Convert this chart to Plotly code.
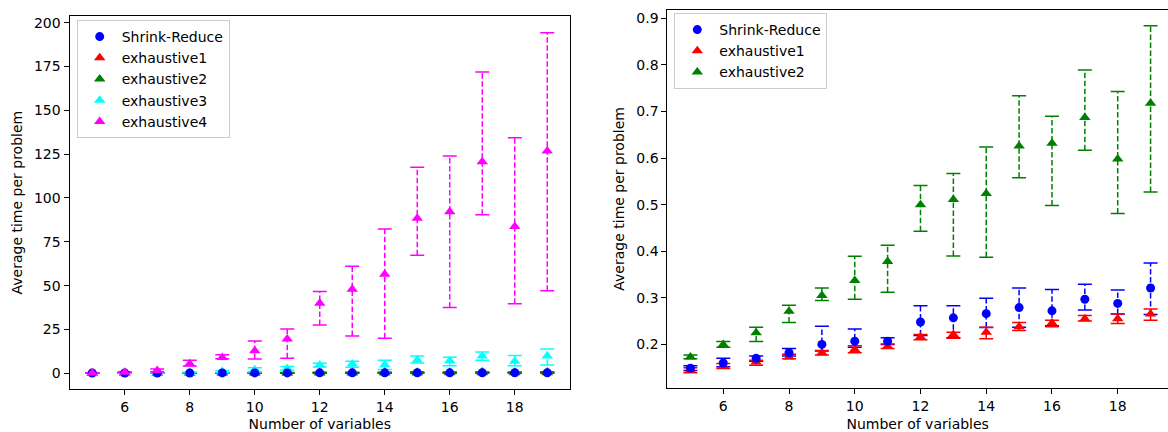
import plotly.graph_objects as go

# ---------------- data ----------------
n_vars = [5, 6, 7, 8, 9, 10, 11, 12, 13, 14, 15, 16, 17, 18, 19]

sr_mean = [0.149, 0.160, 0.170, 0.182, 0.200, 0.207, 0.207, 0.248, 0.257, 0.266, 0.279, 0.272, 0.297, 0.288, 0.321]
sr_low  = [0.144, 0.152, 0.164, 0.175, 0.186, 0.194, 0.200, 0.219, 0.214, 0.236, 0.237, 0.240, 0.274, 0.265, 0.264]
sr_high = [0.154, 0.170, 0.175, 0.191, 0.239, 0.233, 0.214, 0.283, 0.283, 0.299, 0.321, 0.318, 0.329, 0.317, 0.375]

ex1_mean = [0.145, 0.154, 0.162, 0.173, 0.182, 0.189, 0.196, 0.216, 0.221, 0.226, 0.238, 0.246, 0.255, 0.255, 0.265]
ex1_low  = [0.139, 0.148, 0.155, 0.169, 0.177, 0.182, 0.191, 0.210, 0.213, 0.212, 0.230, 0.238, 0.250, 0.245, 0.252]
ex1_high = [0.150, 0.159, 0.166, 0.179, 0.187, 0.197, 0.201, 0.221, 0.226, 0.237, 0.247, 0.252, 0.262, 0.265, 0.276]

ex2_mean = [0.173, 0.200, 0.225, 0.271, 0.305, 0.337, 0.378, 0.500, 0.511, 0.524, 0.626, 0.632, 0.687, 0.598, 0.718]
ex2_low  = [0.169, 0.194, 0.206, 0.247, 0.294, 0.297, 0.312, 0.443, 0.390, 0.387, 0.558, 0.498, 0.617, 0.481, 0.527]
ex2_high = [0.177, 0.206, 0.237, 0.284, 0.321, 0.389, 0.413, 0.541, 0.567, 0.624, 0.734, 0.690, 0.789, 0.743, 0.884]

ex3_mean = [0.05, 0.1, 0.3, 0.5, 1.0, 2.0, 2.8, 4.7, 5.3, 4.9, 7.6, 7.2, 9.8, 6.8, 9.8]
ex3_low  = [0.0, 0.05, 0.15, 0.3, 0.5, 0.8, 1.8, 3.6, 3.5, 2.1, 5.9, 4.3, 7.4, 4.3, 4.8]
ex3_high = [0.1, 0.15, 0.4, 0.7, 1.5, 3.2, 3.9, 5.8, 6.8, 7.5, 9.8, 9.2, 12.2, 10.2, 13.8]

ex4_mean = [0.2, 0.6, 1.6, 5.5, 9.0, 12.8, 19.5, 39.9, 47.9, 56.5, 88.4, 92.2, 120.7, 83.7, 126.8]
ex4_low  = [0.1, 0.4, 0.9, 4.2, 8.3, 8.1, 8.6, 27.6, 21.3, 20.0, 67.3, 37.5, 90.5, 39.7, 47.1]
ex4_high = [0.3, 0.9, 2.4, 7.4, 10.6, 18.4, 25.3, 46.6, 61.0, 82.3, 117.5, 124.0, 171.9, 134.4, 194.3]

left_yticks = [0, 25, 50, 75, 100, 125, 150, 175, 200]
right_yticks = [0.2, 0.3, 0.4, 0.5, 0.6, 0.7, 0.8, 0.9]
xticks = [6, 8, 10, 12, 14, 16, 18]

# (name, symbol, colour, mean, low, high, legend rank)
SR = ("Shrink-Reduce", "circle", "#0000ff", sr_mean, sr_low, sr_high, 1)
E1 = ("exhaustive1", "triangle-up", "#ff0000", ex1_mean, ex1_low, ex1_high, 2)
E2 = ("exhaustive2", "triangle-up", "#008000", ex2_mean, ex2_low, ex2_high, 3)
E3 = ("exhaustive3", "triangle-up", "#00ffff", ex3_mean, ex3_low, ex3_high, 4)
E4 = ("exhaustive4", "triangle-up", "#ff00ff", ex4_mean, ex4_low, ex4_high, 5)

W, H = 1168, 432
FONT = "DejaVu Sans"
FS = 14

fig = go.Figure()


def add_bars(s, xa, ya):
    name, symbol, color, mean, low, high, rank = s
    bx, by = [], []
    for xv, lo, hi in zip(n_vars, low, high):
        bx += [xv, xv, None]
        by += [lo, hi, None]
    fig.add_trace(go.Scatter(
        x=bx, y=by, mode="lines", xaxis=xa, yaxis=ya, showlegend=False,
        line=dict(color=color, width=1.5, dash="5.5px,2.5px"), hoverinfo="skip"))
    fig.add_trace(go.Scatter(
        x=n_vars + n_vars, y=low + high, mode="markers", xaxis=xa, yaxis=ya,
        showlegend=False, hoverinfo="skip",
        marker=dict(symbol="line-ew", size=10, color=color,
                    line=dict(color=color, width=1.5))))


def add_markers(s, xa, ya, legend):
    name, symbol, color, mean, low, high, rank = s
    fig.add_trace(go.Scatter(
        x=n_vars, y=mean, mode="markers", name=name, xaxis=xa, yaxis=ya,
        legend=legend, legendrank=rank,
        marker=dict(symbol=symbol, size=9 if symbol == "circle" else 10,
                    color=color, line=dict(width=0))))


left_series = [SR, E1, E2, E3, E4]
for s in left_series:
    add_bars(s, "x", "y")
for s in [E1, E2, E3, SR, E4]:
    add_markers(s, "x", "y", "legend")

right_series = [SR, E1, E2]
for s in right_series:
    add_bars(s, "x2", "y2")
for s in [E1, E2, SR]:
    add_markers(s, "x2", "y2", "legend2")

axis_common = dict(
    showline=True, linecolor="#000000", linewidth=1, ticks="outside",
    ticklen=5, tickwidth=1, tickcolor="#000000", showgrid=False,
    zeroline=False, tickfont=dict(family=FONT, size=FS, color="#000000"),
)
title_font = dict(family=FONT, size=FS, color="#000000")
legend_common = dict(
    xanchor="left", yanchor="top", bgcolor="rgba(255,255,255,0.8)",
    bordercolor="#cccccc", borderwidth=1, itemwidth=34,
    font=dict(family=FONT, size=FS, color="#000000"),
)

fig.update_layout(
    width=W, height=H,
    margin=dict(l=0, r=0, t=0, b=0),
    paper_bgcolor="white", plot_bgcolor="white",
    font=dict(family=FONT, size=FS, color="#000000"),
    xaxis=dict(axis_common, domain=[69.5 / W, 570 / W], range=[4.3, 19.7],
               tickvals=xticks, mirror=True, anchor="y",
               title=dict(text="Number of variables", font=title_font, standoff=6)),
    yaxis=dict(axis_common, domain=[1 - 389.3 / H, 1 - 16 / H], range=[-9.13, 203.8],
               tickvals=left_yticks, mirror=True, anchor="x",
               title=dict(text="Average time per problem", font=title_font, standoff=8)),
    xaxis2=dict(axis_common, domain=[667.4 / W, 1.0], range=[4.3, 19.53],
                tickvals=xticks, mirror=True, anchor="y2",
                title=dict(text="Number of variables", font=title_font, standoff=6)),
    yaxis2=dict(axis_common, domain=[1 - 387.7 / H, 1 - 10 / H], range=[0.107, 0.918],
                tickvals=right_yticks, tickformat=".1f", mirror=False, anchor="x2",
                title=dict(text="Average time per problem", font=title_font, standoff=8)),
    legend=dict(legend_common, x=76.7 / W, y=1 - 20 / H),
    legend2=dict(legend_common, x=674.3 / W, y=1 - 13 / H),
    showlegend=True,
)

fig.write_html("out.html")
